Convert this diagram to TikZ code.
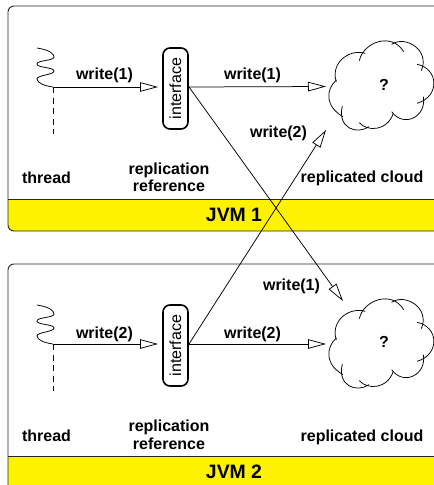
\documentclass[tikz,border=0pt]{standalone}
\usepackage{fontspec}
\setmainfont{Liberation Sans}
\usetikzlibrary{arrows.meta}
\tikzset{
  lbl/.style={font=\fontsize{16}{18}\selectfont\bfseries,inner sep=0pt,anchor=base},
  jvm/.style={font=\fontsize{19.4}{22}\selectfont\bfseries,inner sep=0pt,anchor=base},
  iface/.style={draw,line width=1.6pt,rounded corners=7pt,minimum width=81pt,minimum height=25pt,inner sep=0pt,rotate=90,font=\fontsize{16}{18}\selectfont},
  frameline/.style={line width=0.9pt,draw=black!85},
  conn/.style={line width=0.75pt,-{Triangle[open,length=18pt,width=9.5pt,line width=0.75pt]}},
  wavy/.style={line width=0.75pt},
  dashline/.style={line width=0.75pt,dash pattern=on 6pt off 4.5pt},
  cloudline/.style={line width=0.75pt}
}
\newcommand{\cloudshape}[2]{%
  \begin{scope}[shift={(#1,#2)},x=0.3333pt,y=-0.3333pt,cloudline]
    \draw (358,245) .. controls (340,195) and (390,145) .. (445,160);
    \draw (427,182) .. controls (440,125) and (525,96) .. (560,155);
    \draw (524,133) .. controls (565,105) and (640,150) .. (613,212);
    \draw (600,193) .. controls (665,205) and (670,290) .. (600,310);
    \draw (619,290) .. controls (630,350) and (560,385) .. (524,335);
    \draw (529,340) .. controls (510,395) and (450,395) .. (427,368);
    \draw (456,380) .. controls (420,405) and (360,385) .. (376,318);
    \draw (378,350) .. controls (325,320) and (325,270) .. (358,240);
  \end{scope}}
\begin{document}
\begin{tikzpicture}[x=1pt,y=-1pt,line cap=butt]
\clip (0,0) rectangle (434,485);
\fill[white] (0,0) rectangle (434,485);
\fill[yellow] (8,199.5) -- (445,199.5) -- (445,231) -- (14,231) arc[start angle=270,end angle=180,radius=6pt] -- cycle;
\fill[yellow] (8,456.7) rectangle (445,495);
\draw[frameline,rounded corners=6pt] (445,6) -- (8,6) -- (8,231) -- (445,231);
\draw[frameline] (8,199.5) -- (445,199.5);
\draw[frameline,rounded corners=6pt] (445,264) -- (8,264) -- (8,495);
\draw[frameline] (8,456.7) -- (445,456.7);
\coordinate (t1) at (53,87);
\coordinate (t1end) at (53,134);
\coordinate (t2) at (53,344);
\coordinate (t2end) at (53,391);
\draw[wavy] (37,48) .. controls (50,50) and (54,54) .. (54,57) .. controls (54,61) and (37,60) .. (37,64) .. controls (37,68) and (54,67) .. (54,71) .. controls (54,75) and (37,75) .. (37,79) .. controls (37,83) and (45,86) .. (t1);
\draw[wavy] (37,305) .. controls (50,307) and (54,311) .. (54,314) .. controls (54,318) and (37,317) .. (37,321) .. controls (37,325) and (54,324) .. (54,328) .. controls (54,332) and (37,332) .. (37,336) .. controls (37,340) and (45,343) .. (t2);
\draw[dashline] (t1) -- (t1end);
\draw[dashline] (t2) -- (t2end);
\node[iface] (if1) at (175.5,88.5) {interface};
\node[iface] (if2) at (175.5,345.5) {interface};
\cloudshape{217}{0}
\cloudshape{217}{258}
\node[lbl] (q1) at (384,90) {?};
\node[lbl] (q2) at (384,347.7) {?};
\coordinate (c1w) at (326,86.5);
\coordinate (c1s) at (326,130);
\coordinate (c2w) at (326,344);
\coordinate (c2n) at (343,301);
\coordinate (if1s) at (189,87);
\coordinate (if2s) at (189,344);
\coordinate (if1t) at (158,87);
\coordinate (if2t) at (158,344);
\draw[conn] (t1) -- (if1t);
\draw[conn] (t2) -- (if2t);
\draw[conn] (if1s) -- (c1w);
\draw[conn] (if2s) -- (c2w);
\draw[conn] (if1s) -- (c2n);
\draw[conn] (if2s) -- (c1s);
\node[lbl] (w1) at (104.5,79.5) {write(1)};
\node[lbl] (w2) at (252.5,79.5) {write(1)};
\node[lbl] (w3) at (278.5,137.7) {write(2)};
\node[lbl] (w4) at (291.5,290) {write(1)};
\node[lbl] (w5) at (104.5,338.3) {write(2)};
\node[lbl] (w6) at (252.5,338.3) {write(2)};
\node[lbl] (th1) at (46.5,183) {thread};
\node[lbl] (th2) at (46.5,441) {thread};
\node[lbl] (rr1a) at (169,174) {replication};
\node[lbl] (rr1b) at (169,191.7) {reference};
\node[lbl] (rr2a) at (169,431) {replication};
\node[lbl] (rr2b) at (169,449) {reference};
\node[lbl] (rc1) at (362,182.7) {replicated cloud};
\node[lbl] (rc2) at (362,441) {replicated cloud};
\node[jvm] (j1) at (234,221.7) {JVM 1};
\node[jvm] (j2) at (234,478.3) {JVM 2};
\end{tikzpicture}
\end{document}
